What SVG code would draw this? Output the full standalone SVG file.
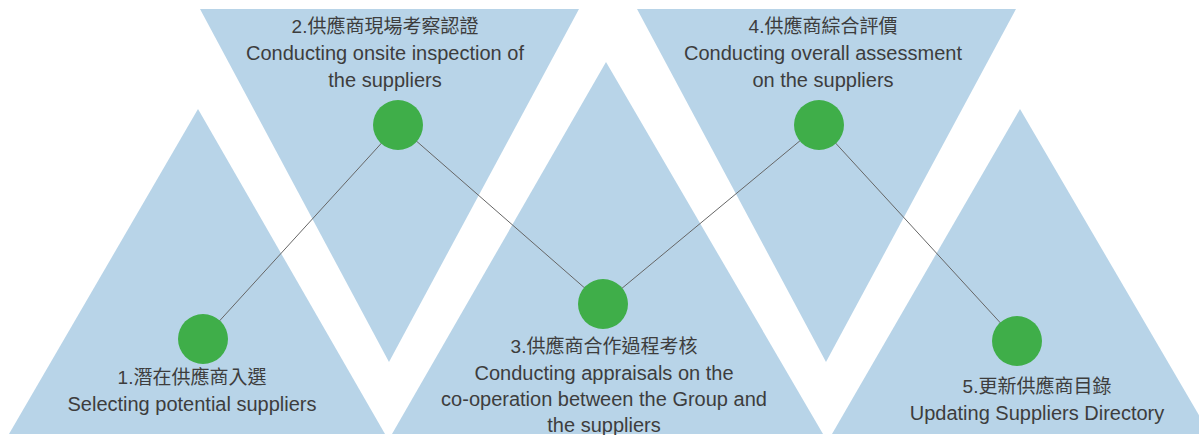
<svg xmlns="http://www.w3.org/2000/svg" width="1199" height="435" viewBox="0 0 1199 435">
<style>
.tri{fill:#b8d4e8;}
.dot{fill:#3fae49;}
.lbl{font-family:"Liberation Sans","Noto Sans CJK TC",sans-serif;font-size:20px;fill:#3d3d3d;text-anchor:middle;}
.cjk{font-size:19px;}
.conn{stroke:#666;stroke-width:1;fill:none;}
</style>
<rect width="1199" height="435" fill="#fff"/>
<g id="backgrounds">
<polygon class="tri" points="198,109 9,434 385,434"/>
<polygon class="tri" points="200,9 579,9 389,362"/>
<polygon class="tri" points="606,62 392,434 823,434"/>
<polygon class="tri" points="637,9 1016,9 826,362"/>
<polygon class="tri" points="1020,109 832,434 1210,434"/>
</g>
<g id="connectors">
<polyline class="conn" points="203,339 398,125 603,304 819,125 1017,341"/>
</g>
<g id="node1">
<circle class="dot" cx="203" cy="339" r="25"/>
<text class="lbl cjk" x="192" y="384">1.潛在供應商入選</text>
<text class="lbl" x="192" y="411">Selecting potential suppliers</text>
</g>
<g id="node2">
<circle class="dot" cx="398" cy="125" r="25"/>
<text class="lbl cjk" x="385" y="33">2.供應商現場考察認證</text>
<text class="lbl" x="385" y="60">Conducting onsite inspection of</text>
<text class="lbl" x="385" y="87">the suppliers</text>
</g>
<g id="node3">
<circle class="dot" cx="603" cy="304" r="25"/>
<text class="lbl cjk" x="604" y="353">3.供應商合作過程考核</text>
<text class="lbl" x="604" y="380">Conducting appraisals on the</text>
<text class="lbl" x="604" y="406">co-operation between the Group and</text>
<text class="lbl" x="604" y="432">the suppliers</text>
</g>
<g id="node4">
<circle class="dot" cx="819" cy="125" r="25"/>
<text class="lbl cjk" x="823" y="33">4.供應商綜合評價</text>
<text class="lbl" x="823" y="60">Conducting overall assessment</text>
<text class="lbl" x="823" y="87">on the suppliers</text>
</g>
<g id="node5">
<circle class="dot" cx="1017" cy="341" r="25"/>
<text class="lbl cjk" x="1037" y="393">5.更新供應商目錄</text>
<text class="lbl" x="1037" y="420">Updating Suppliers Directory</text>
</g>
</svg>
